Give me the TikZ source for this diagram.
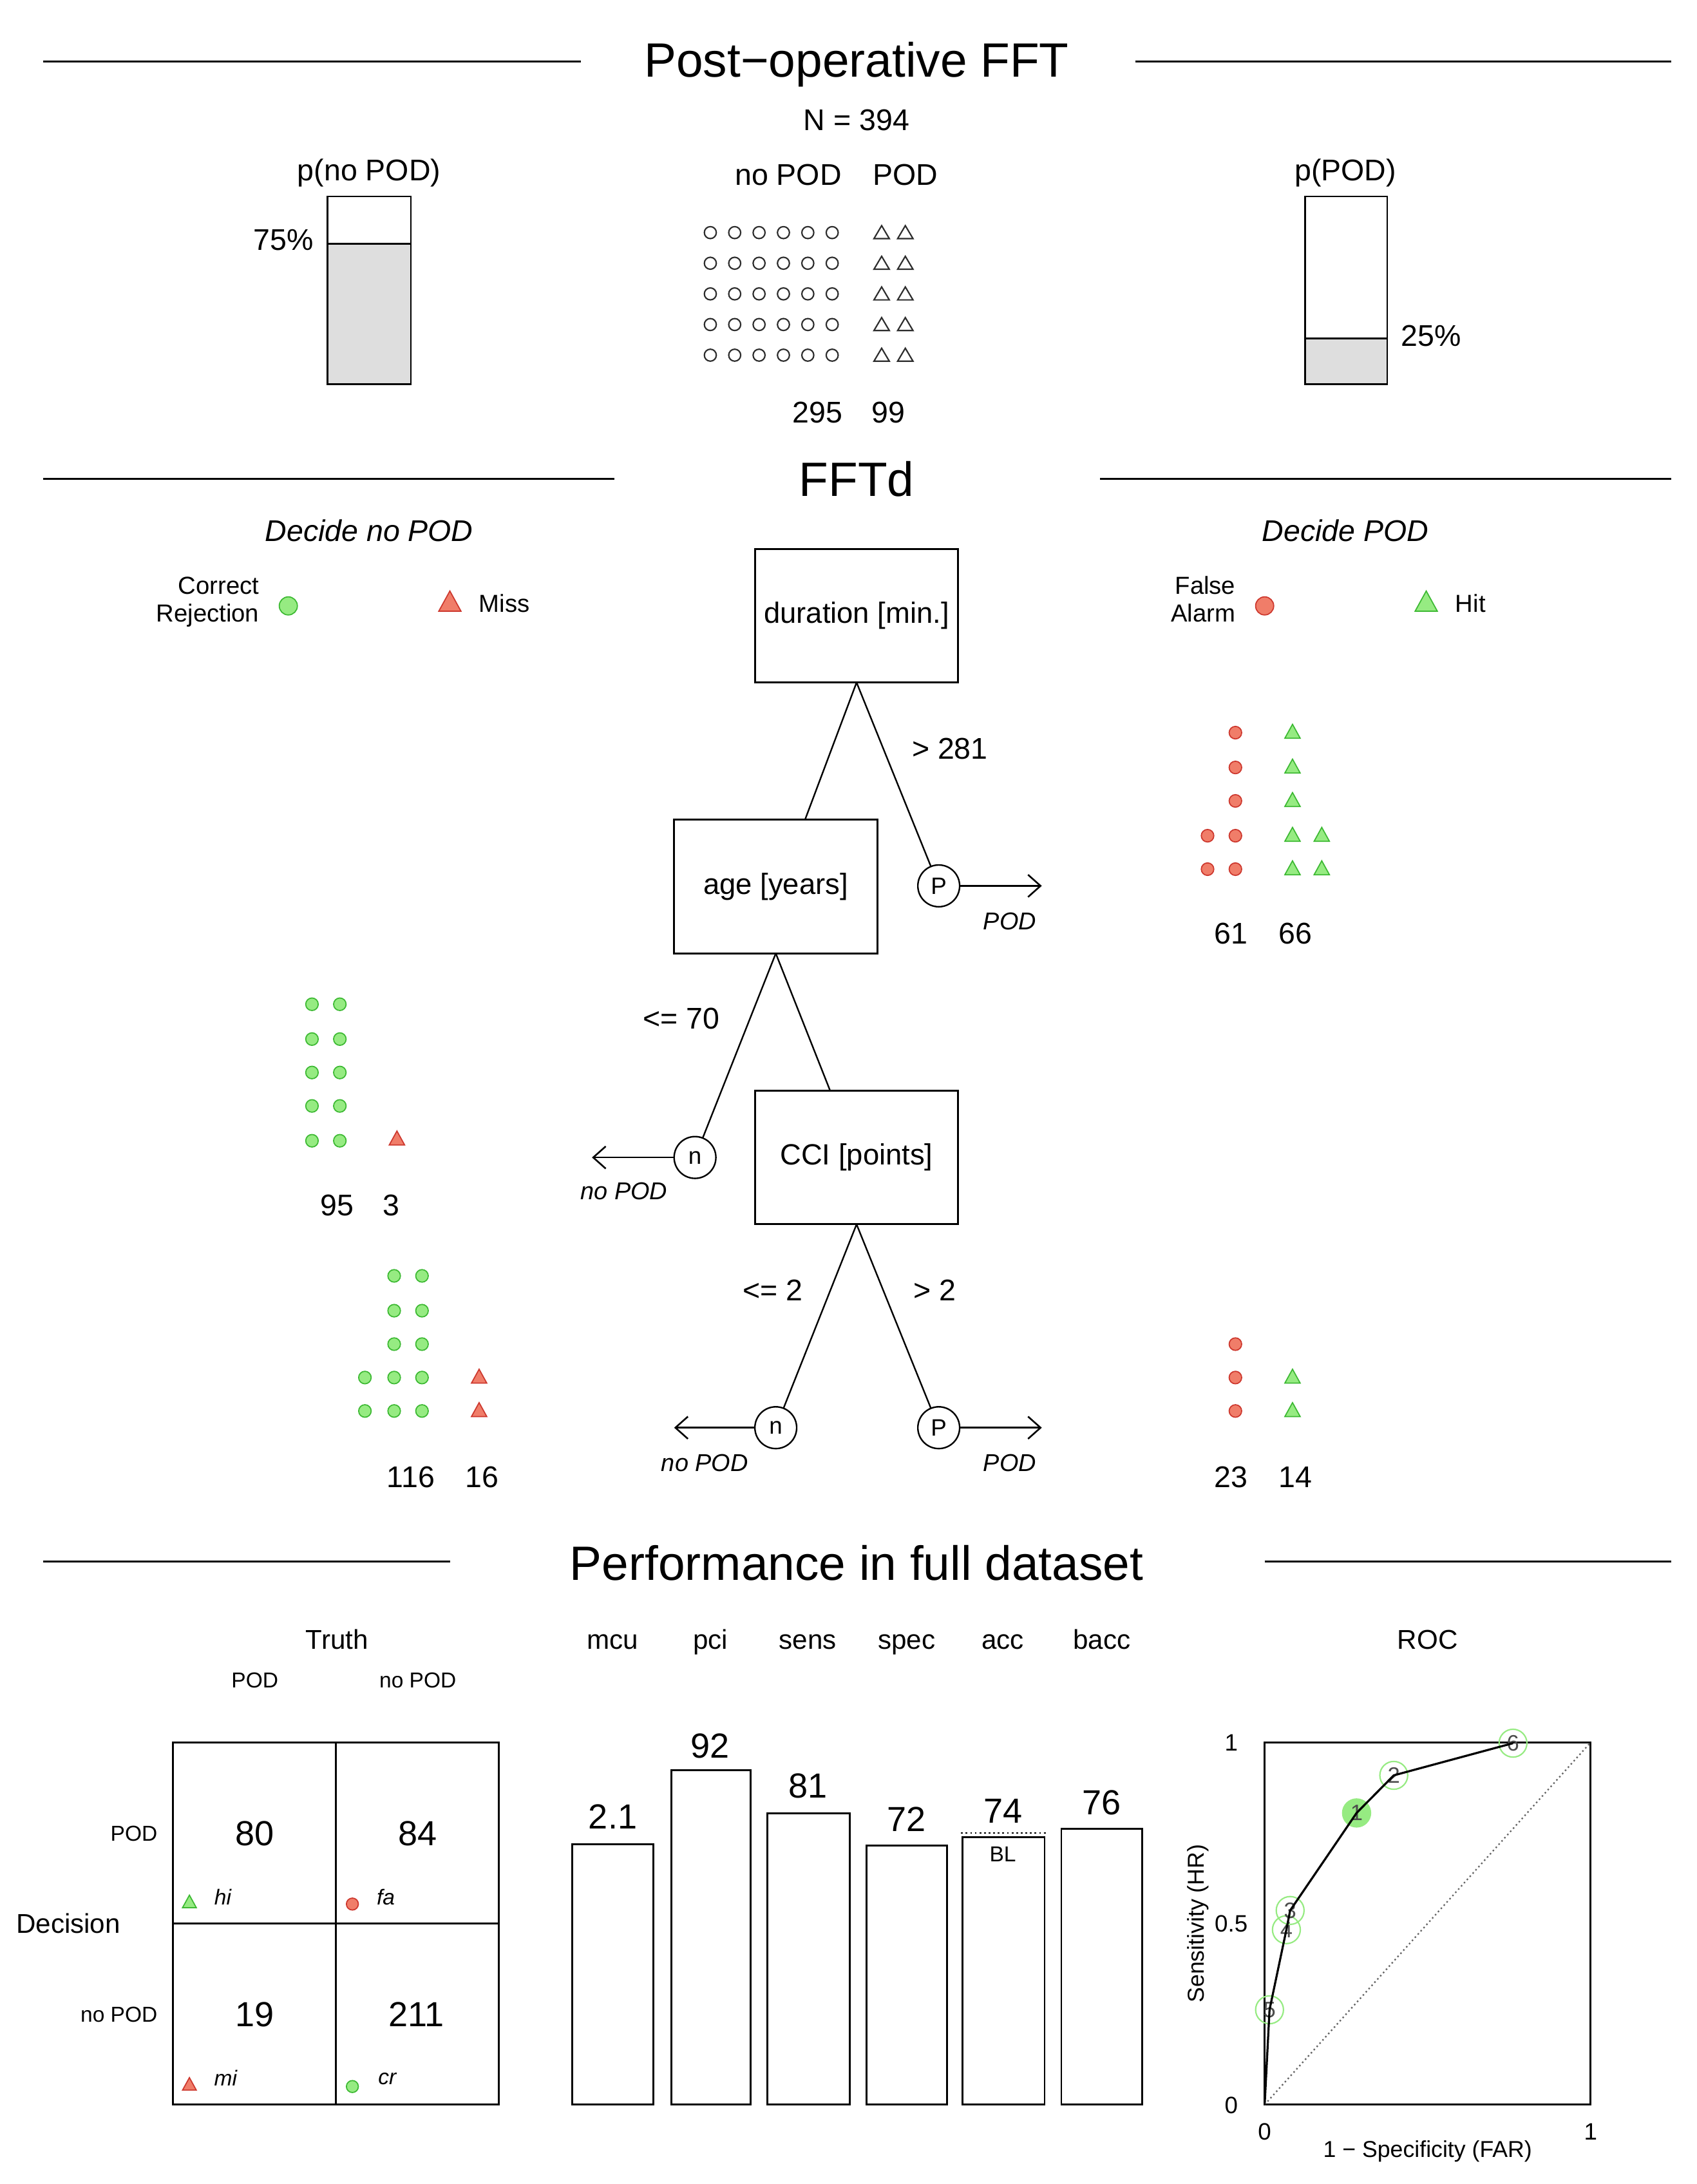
\documentclass[tikz,border=0pt]{standalone}
\usepackage{fontspec}
\setmainfont{Liberation Sans}
\usetikzlibrary{arrows.meta,calc}
\newcommand\myfs[1]{\fontsize{#1pt}{#1pt}\selectfont}
\definecolor{lgreen}{RGB}{150,235,130}
\definecolor{dgreen}{RGB}{60,185,50}
\definecolor{lred}{RGB}{240,125,105}
\definecolor{dred}{RGB}{205,55,45}
\definecolor{barfill}{RGB}{222,222,222}
\definecolor{iconk}{RGB}{45,45,45}
\tikzset{
  gtri/.pic={\draw[dgreen,fill=lgreen,line width=0.8pt] (0,-6)--(5.5,4)--(-5.5,4)--cycle;},
  rtri/.pic={\draw[dred,fill=lred,line width=0.8pt] (0,-6)--(5.5,4)--(-5.5,4)--cycle;},
  ktri/.pic={\draw[iconk,line width=1pt] (0,-5)--(5.5,4.3)--(-5.5,4.3)--cycle;},
}
\begin{document}
\begin{tikzpicture}[x=1pt,y=-1pt,
  every node/.style={inner sep=0pt,outer sep=0pt},
  T/.style={font=\myfs{#1},anchor=base,yshift={-0.36*#1pt}},
  TI/.style={T=#1,font=\myfs{#1}\itshape},
  rule/.style={line width=1.4pt},
  cue/.style={draw,line width=1.4pt,minimum width=146pt,minimum height=96pt,font=\myfs{21}},
  exitc/.style={draw,circle,line width=1.1pt,minimum size=30pt,font=\myfs{17}},
  branch/.style={line width=1.1pt},
  exitarrow/.style={line width=1.2pt,-{Straight Barb[length=9pt,width=16pt]}},
  gc/.style={draw=dgreen,fill=lgreen,line width=0.8pt},
  rc/.style={draw=dred,fill=lred,line width=0.8pt},
  kc/.style={draw=iconk,line width=1pt},
  bar/.style={draw,line width=1.3pt},
  rocpt/.style={circle,draw=lgreen,line width=1pt,minimum size=20pt,font=\myfs{16},text=black!70},
]
\useasboundingbox (0,0) rectangle (1218,1568);

% ---------------- top section
\draw[rule] (31,44) -- (417,44);
\draw[rule] (815,44) -- (1200,44);
\node[T=34.6] (title1) at (615,43) {Post−operative FFT};
\node[T=21.5] (nall) at (615,86) {N = 394};
\node[T=21.5] (pnopod) at (265,122) {p(no POD)};
\node[T=21.5] (ppod) at (966,122) {p(POD)};
\node[T=21.5] (hnopod) at (566,125) {no POD};
\node[T=21.5] (hpod) at (650,125) {POD};
% left bar
\fill[barfill] (235,175) rectangle (295,276);
\draw[line width=1.3pt] (235,141) rectangle (295,276);
\draw[line width=1.3pt] (235,175) -- (295,175);
\node[T=21.5,anchor=base east] (p75) at (225,172) {75\%};
% right bar
\fill[barfill] (937,243) rectangle (996,276);
\draw[line width=1.3pt] (937,141) rectangle (996,276);
\draw[line width=1.3pt] (937,243) -- (996,243);
\node[T=21.5,anchor=base west] (p25) at (1006,241) {25\%};
% icon array
\foreach \y in {167,189,211,233,255}{
  \foreach \x in {510,527.5,545,562.5,580,597.5}{\draw[kc] (\x,\y) circle (4.3);}
  \foreach \x in {633,650}{\pic at (\x,\y) {ktri};}
}
\node[T=21.5] (n295) at (587,296) {295};
\node[T=21.5] (n99) at (638,296) {99};

% ---------------- tree section
\draw[rule] (31,344) -- (441,344);
\draw[rule] (790,344) -- (1200,344);
\node[T=34.6] (title2) at (615,344) {FFTd};
\node[TI=21.5] (dnopod) at (265,381) {Decide no POD};
\node[TI=21.5] (dpod) at (966,381) {Decide POD};
% legends
\node[T=17.7,anchor=base east] (lcr1) at (186,420) {Correct};
\node[T=17.7,anchor=base east] (lcr2) at (186,440) {Rejection};
\draw[gc] (207,435) circle (6.5);
\pic[scale=1.45] at (323,433) {rtri};
\node[T=17.7,anchor=base west] (lmi) at (344,433) {Miss};
\node[T=17.7,anchor=base east] (lfa1) at (887,420) {False};
\node[T=17.7,anchor=base east] (lfa2) at (887,440) {Alarm};
\draw[rc] (908,435) circle (6.5);
\pic[scale=1.45] at (1024,433) {gtri};
\node[T=17.7,anchor=base west] (lhi) at (1045,433) {Hit};

% cue nodes
\node[cue] (dur) at (615,442) {duration [min.]};
\node[cue] (age) at (557,636.5) {age [years]};
\node[cue] (cci) at (615,831) {CCI [points]};
% exits
\node[exitc] (x1) at (674,636) {P};
\node[exitc] (x2) at (499,831) {n};
\node[exitc] (x3) at (557,1025) {n};
\node[exitc] (x4) at (674,1025) {P};
\coordinate (a1) at (748,636);
\coordinate (a2) at (425,831);
\coordinate (a3) at (484,1025);
\coordinate (a4) at (748,1025);
% branches
\draw[branch] (dur.south) -- ($(age.north)+(21,0)$);
\draw[branch] (dur.south) -- (x1);
\draw[branch] (age.south) -- (x2);
\draw[branch] (age.south) -- ($(cci.north)+(-19,0)$);
\draw[branch] (cci.south) -- (x3);
\draw[branch] (cci.south) -- (x4);
\draw[exitarrow] (x1.east) -- (a1);
\draw[exitarrow] (x2.west) -- (a2);
\draw[exitarrow] (x3.west) -- (a3);
\draw[exitarrow] (x4.east) -- (a4);
% branch labels
\node[T=21.5] (b1) at (682,537) {> 281};
\node[T=21.5] (b2) at (489,731) {<= 70};
\node[T=21.5] (b3) at (555,926) {<= 2};
\node[T=21.5] (b4) at (671,926) {> 2};
\node[TI=17.5] (e1) at (725,661) {POD};
\node[TI=17.5] (e2) at (448,855) {no POD};
\node[TI=17.5] (e3) at (506,1050) {no POD};
\node[TI=17.5] (e4) at (725,1050) {POD};

% level 1 (decide POD)
\foreach \y in {526,551,575,600,624}{\draw[rc] (887,\y) circle (4.5); \pic at (928,\y) {gtri};}
\foreach \y in {600,624}{\draw[rc] (867,\y) circle (4.5); \pic at (949,\y) {gtri};}
\node[T=21.5] (c61) at (884,670) {61};
\node[T=21.5] (c66) at (930,670) {66};
% level 2 (decide no POD)
\foreach \y in {721,746,770,794,819}{\draw[gc] (224,\y) circle (4.5); \draw[gc] (244,\y) circle (4.5);}
\pic at (285,818) {rtri};
\node[T=21.5] (c95) at (242,865) {95};
\node[T=21.5] (c3) at (281,865) {3};
% level 3 (decide no POD)
\foreach \y in {916,941,965,989,1013}{\draw[gc] (283,\y) circle (4.5); \draw[gc] (303,\y) circle (4.5);}
\foreach \y in {989,1013}{\draw[gc] (262,\y) circle (4.5); \pic at (344,\y) {rtri};}
\node[T=21.5] (c116) at (295,1060) {116};
\node[T=21.5] (c16) at (346,1060) {16};
% level 3 (decide POD)
\foreach \y in {965,989,1013}{\draw[rc] (887,\y) circle (4.5);}
\foreach \y in {989,1013}{\pic at (928,\y) {gtri};}
\node[T=21.5] (c23) at (884,1060) {23};
\node[T=21.5] (c14) at (930,1060) {14};

% ---------------- performance section
\draw[rule] (31,1121) -- (323,1121);
\draw[rule] (908,1121) -- (1200,1121);
\node[T=34.6] (title3) at (615,1122) {Performance in full dataset};
% confusion matrix
\node[T=19.5] (truth) at (242,1177) {Truth};
\node[T=15.5] (tpod) at (183,1206) {POD};
\node[T=15.5] (tnopod) at (300,1206) {no POD};
\node[T=19.5] (decis) at (49,1381) {Decision};
\node[T=15.5,anchor=base east] (dpodl) at (113,1316) {POD};
\node[T=15.5,anchor=base east] (dnopodl) at (113,1446) {no POD};
\draw[line width=1.3pt] (124,1251) rectangle (358,1511);
\draw[line width=1.3pt] (241,1251) -- (241,1511);
\draw[line width=1.3pt] (124,1381) -- (358,1381);
\node[T=25] (m80) at (183,1316) {80};
\node[T=25] (m84) at (300,1316) {84};
\node[T=25] (m19) at (183,1446) {19};
\node[T=25] (m211) at (299,1446) {211};
\pic[scale=0.9] at (136,1366) {gtri};
\draw[rc] (253,1367) circle (4.3);
\pic[scale=0.9] at (136,1497) {rtri};
\draw[gc] (253,1498) circle (4.3);
\node[TI=15.5] (lhi2) at (160,1362) {hi};
\node[TI=15.5] (lfa3) at (277,1362) {fa};
\node[TI=15.5] (lmi2) at (162,1492) {mi};
\node[TI=15.5] (lcr3) at (278,1491) {cr};
% bars
\node[T=19.5] (hmcu) at (440,1177) {mcu};
\node[T=19.5] (hpci) at (510,1177) {pci};
\node[T=19.5] (hsens) at (580,1177) {sens};
\node[T=19.5] (hspec) at (651,1177) {spec};
\node[T=19.5] (hacc) at (720,1177) {acc};
\node[T=19.5] (hbacc) at (791,1177) {bacc};
\draw[bar] (411,1324) rectangle (469,1511);
\draw[bar] (482,1271) rectangle (539,1511);
\draw[bar] (551,1302) rectangle (610,1511);
\draw[bar] (622,1325) rectangle (680,1511);
\draw[bar] (691,1319) rectangle (750,1511);
\draw[bar] (762,1313) rectangle (820,1511);
\node[T=25] (vmcu) at (440,1304) {2.1};
\node[T=25] (vpci) at (510,1253) {92};
\node[T=25] (vsens) at (580,1282) {81};
\node[T=25] (vspec) at (651,1306) {72};
\node[T=25] (vacc) at (720,1300) {74};
\node[T=25] (vbacc) at (791,1294) {76};
\draw[dotted,line width=1.3pt] (690,1316) -- (751,1316);
\node[T=15.5] (bl) at (720,1331) {BL};
% ROC
\node[T=19.5] (hroc) at (1025,1177) {ROC};
\coordinate (roc0) at (908,1511);
\coordinate (roc11) at (1142,1251);
\draw[line width=1.3pt] (roc0) rectangle (roc11);
\draw[dotted,black!60,line width=1.1pt] (roc0) -- (roc11);
\node[T=17] (ty1) at (884,1251) {1};
\node[T=17] (ty05) at (884,1381) {0.5};
\node[T=17] (ty0) at (884,1511) {0};
\node[T=17] (tx0) at (908,1530) {0};
\node[T=17] (tx1) at (1142,1530) {1};
\node[T=16.5] (xlab) at (1025,1543) {1 − Specificity (FAR)};
\node[font=\myfs{16.5},rotate=90] (ylab) at (860,1381) {Sensitivity (HR)};
\node[rocpt] (p5) at (911.5,1442.9) {5};
\node[rocpt] (p4) at (923.6,1385.4) {4};
\node[rocpt] (p3) at (926.3,1371.6) {3};
\node[rocpt,fill=lgreen] (p1) at (974,1301.6) {1};
\node[rocpt] (p2) at (1000.7,1274.6) {2};
\node[rocpt] (p6) at (1086.3,1251.5) {6};
\draw[line width=1.5pt] (roc0) -- (p5.center) -- (p4.center) -- (p3.center) -- (p1.center) -- (p2.center) -- (p6.center);
\end{tikzpicture}
\end{document}
